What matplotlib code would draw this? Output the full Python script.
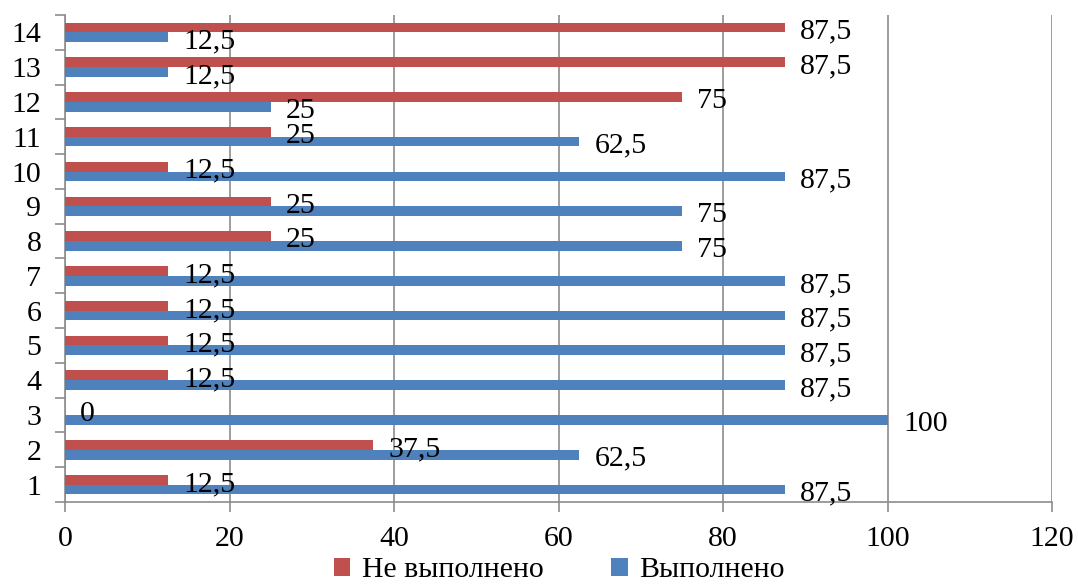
import matplotlib
matplotlib.use("Agg")
import matplotlib.pyplot as plt
import numpy as np

categories = [str(i) for i in range(1, 15)]
done = [87.5, 62.5, 100, 87.5, 87.5, 87.5, 87.5, 75, 75, 87.5, 62.5, 25, 12.5, 12.5]
not_done = [12.5, 37.5, 0, 12.5, 12.5, 12.5, 12.5, 25, 25, 12.5, 25, 75, 87.5, 87.5]

blue = '#4F81BD'
red = '#C0504D'
grid_col = '#8c8c8c'

plt.rcParams['font.family'] = ['Liberation Serif', 'DejaVu Serif']
fs = 21.5


def fmt(v):
    s = f"{v:g}"
    return s.replace('.', ',')


fig = plt.figure(figsize=(10.78, 5.88), dpi=100)
ax = fig.add_axes([0.0603, 0.1463, 0.9157, 0.8282])

y = np.arange(1, len(categories) + 1)
h = 0.28
ax.barh(y + h / 2, not_done, height=h, color=red, label='Не выполнено', zorder=3)
ax.barh(y - h / 2, done, height=h, color=blue, label='Выполнено', zorder=3)

# value labels
for yi, v in zip(y, not_done):
    ax.annotate(fmt(v), (v, yi + h / 2), xytext=(11, -3), textcoords='offset points',
                ha='left', va='center', fontsize=fs, zorder=4)
for yi, v in zip(y, done):
    ax.annotate(fmt(v), (v, yi - h / 2), xytext=(11, -3), textcoords='offset points',
                ha='left', va='center', fontsize=fs, zorder=4)

ax.set_xlim(0, 120)
ax.set_ylim(0.5, len(categories) + 0.5)
ax.set_xticks(np.arange(0, 121, 20))
ax.set_yticks(y)
ax.set_yticklabels(categories)
ax.set_yticks(np.arange(0.5, len(categories) + 1, 1), minor=True)
ax.tick_params(axis='y', which='major', length=0, labelsize=fs, pad=17)
ax.tick_params(axis='y', which='minor', length=7, color=grid_col, width=1.2)
ax.tick_params(axis='x', length=7, color=grid_col, width=1.2, labelsize=fs, pad=10)

ax.grid(axis='x', color=grid_col, linewidth=1.2, zorder=0)
for s in ['top', 'right']:
    ax.spines[s].set_visible(False)
for s in ['left', 'bottom']:
    ax.spines[s].set_color(grid_col)
    ax.spines[s].set_linewidth(1.2)

leg = fig.legend(loc='lower center', bbox_to_anchor=(0.519, -0.038), ncol=2, frameon=False,
                 fontsize=fs, handlelength=0.55, handleheight=0.55, handletextpad=0.4,
                 columnspacing=2.25)

fig.savefig('out.png', dpi=100)
